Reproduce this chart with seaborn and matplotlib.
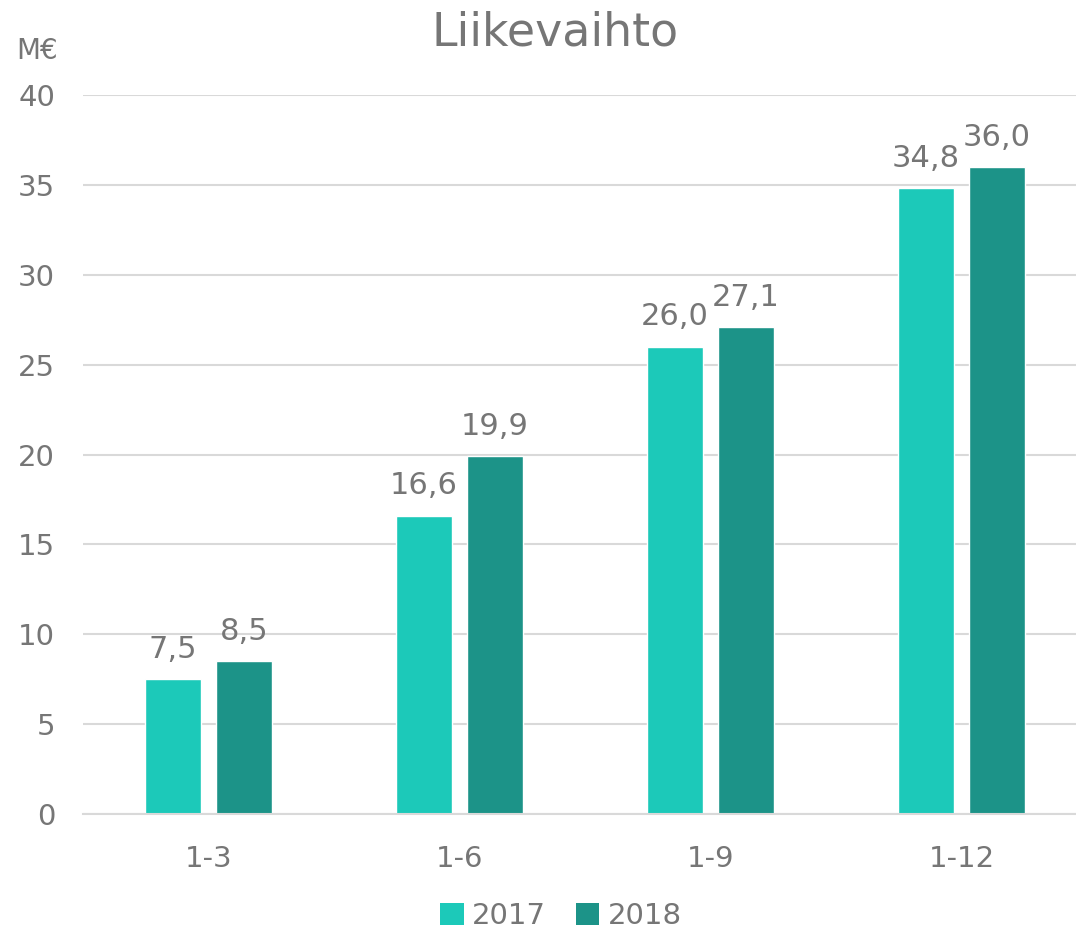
import matplotlib
matplotlib.use("Agg")
import matplotlib.pyplot as plt
import seaborn as sns
import pandas as pd
from matplotlib.patches import Patch

categories = ["1-3", "1-6", "1-9", "1-12"]
years = ["2017", "2018"]
values_2017 = [7.5, 16.6, 26.0, 34.8]
values_2018 = [8.5, 19.9, 27.1, 36.0]
yticks = [0, 5, 10, 15, 20, 25, 30, 35, 40]

df = pd.DataFrame({
    "cat": categories * 2,
    "year": [years[0]] * 4 + [years[1]] * 4,
    "val": values_2017 + values_2018,
})

sns.set_style("white")
plt.rcParams["font.family"] = ["DejaVu Sans"]
TXT = "#767676"
colors = {"2017": "#1CC9B9", "2018": "#1C9388"}

W, H = 1076, 934
fig = plt.figure(figsize=(W / 100, H / 100), dpi=100)
ax = fig.add_axes([83 / W, 1 - 814 / H, (1087 - 83) / W, (814 - 95) / H])

sns.barplot(data=df, x="cat", y="val", hue="year", order=categories,
            hue_order=years, palette=colors, width=0.566, gap=0.21,
            ax=ax, legend=False, saturation=1)

ax.set_xlim(-0.5, 3.5)
ax.set_ylim(0, 40)
ax.set_yticks(yticks)
ax.set_yticklabels([str(t) for t in yticks], fontsize=21, color=TXT)
ax.tick_params(axis="y", length=0, pad=20)
ax.tick_params(axis="x", length=0, pad=22, labelsize=21, labelcolor=TXT)
ax.set_xlabel("")
ax.set_ylabel("")
ax.yaxis.grid(True, color="#D9D9D9", linewidth=1.5)
ax.set_axisbelow(True)
for s in ["top", "right", "left"]:
    ax.spines[s].set_visible(False)
ax.spines["bottom"].set_color("#D9D9D9")
ax.spines["bottom"].set_linewidth(1.5)

for cont in ax.containers:
    ax.bar_label(cont, labels=[f"{v:.1f}".replace(".", ",") for v in cont.datavalues],
                 padding=11, fontsize=22, color=TXT)

fig.text(555 / W, 1 - 33 / H, "Liikevaihto", ha="center", va="center",
         fontsize=33, color=TXT)
fig.text(16 / W, 1 - 51 / H, "M€", ha="left", va="center", fontsize=20, color=TXT)

handles = [Patch(facecolor=colors[y], edgecolor="none") for y in years]
fig.legend(handles, years, loc="center", bbox_to_anchor=(561 / W, 1 - 916 / H),
           ncol=2, frameon=False, fontsize=21, labelcolor=TXT,
           handlelength=0.8, handleheight=0.8, handletextpad=0.3, columnspacing=1.0)

fig.savefig("out.png", dpi=100)
